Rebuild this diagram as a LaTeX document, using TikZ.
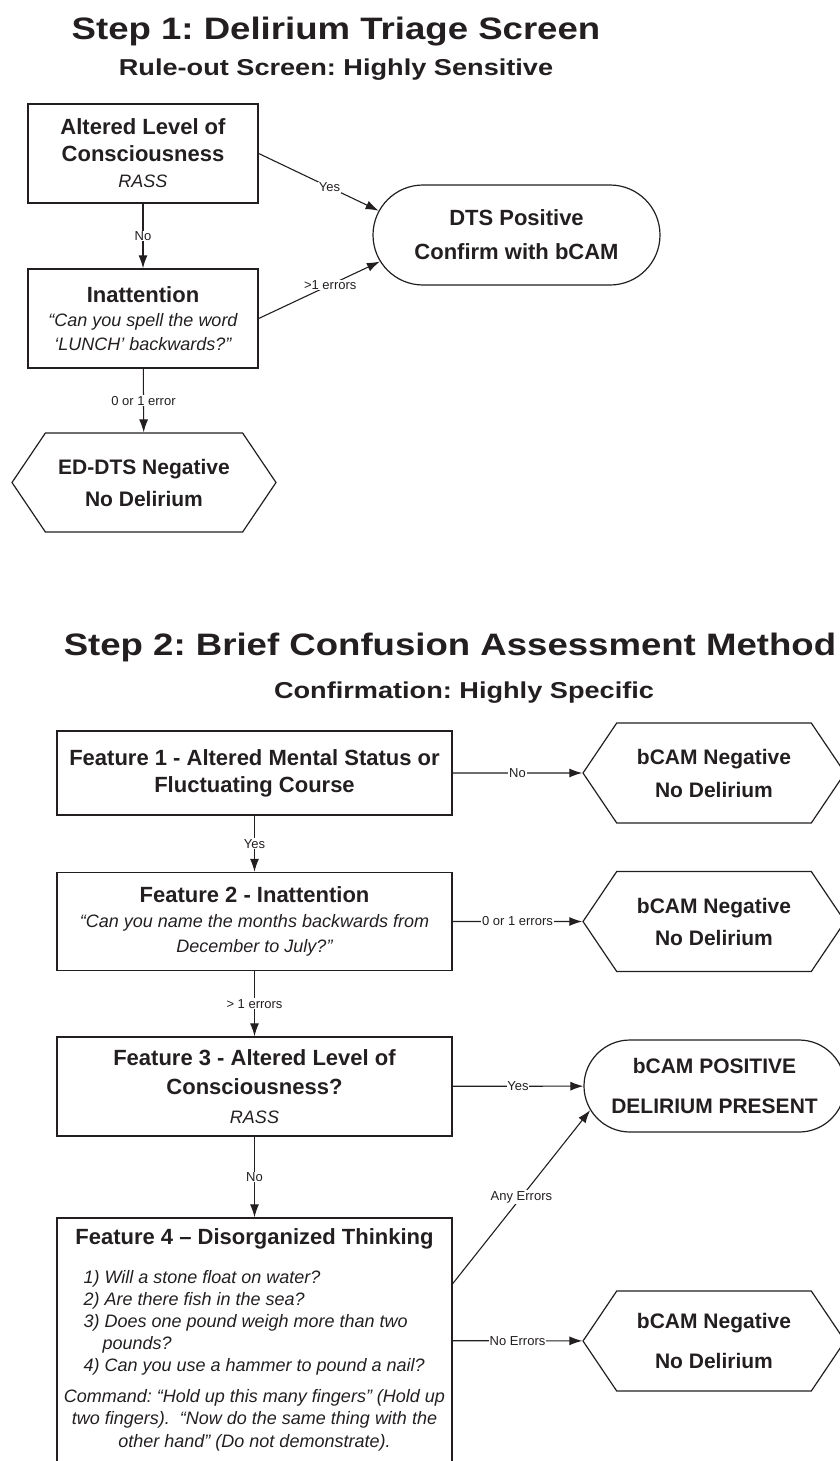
\documentclass[tikz,border=0pt]{standalone}
\usepackage{fontspec}
\setmainfont{Liberation Sans}
\newfontfamily\headfam{Liberation Sans}[FakeStretch=1.18]
\usetikzlibrary{positioning,arrows.meta,shapes.misc,shapes.symbols}

\definecolor{ink}{HTML}{231F20}
\frenchspacing

\newcommand{\titlefont}{\headfam\fontsize{31}{36}\selectfont\bfseries}
\newcommand{\subfont}{\headfam\fontsize{23}{28}\selectfont\bfseries}
\newcommand{\qfont}[1]{\mdseries\itshape\fontsize{18}{#1}\selectfont}

\tikzset{
  fbox/.style={draw=ink, line width=1.4pt, rectangle, inner sep=0pt, align=center,
    text=ink, font=\fontsize{22}{27}\selectfont\bfseries},
  hexbox/.style={draw=ink, line width=1.2pt, signal, signal to=east and west,
    signal pointer angle=112, inner sep=0pt, minimum width=262pt, minimum height=100pt,
    align=center, text=ink, font=\fontsize{21}{33}\selectfont\bfseries},
  endbox/.style={draw=ink, line width=1.2pt, rounded rectangle, inner sep=0pt,
    align=center, text=ink, font=\fontsize{21}{40}\selectfont\bfseries},
  arr/.style={draw=ink, line width=1.1pt, -{Latex[length=13pt,width=9pt]}},
  lbl/.style={fill=white, inner sep=0.8pt, text=ink, font=\fontsize{13}{14}\selectfont}
}

\begin{document}
\begin{tikzpicture}[x=1pt, y=-1pt]
\useasboundingbox (0,0) rectangle (840,1461);

% Step 1
\node[anchor=base, text=ink, font=\titlefont] (t1) at (336,40) {Step 1: Delirium Triage Screen};
\node[anchor=base, text=ink, font=\subfont] (s1) at (336,76) {Rule-out Screen: Highly Sensitive};

\node[fbox, minimum width=230pt, minimum height=99pt, font=\fontsize{22}{26.5}\selectfont\bfseries] (alc) at (143,153.5)
  {Altered Level of\\Consciousness\\\qfont{26}RASS};
\node[fbox, minimum width=230pt, minimum height=99pt, font=\fontsize{22}{24}\selectfont\bfseries] (inatt) at (143,318.5)
  {Inattention\\\qfont{23}“Can you spell the word\\\qfont{21.5}‘LUNCH’ backwards?”};
\node[hexbox, minimum width=264pt, minimum height=99pt, font=\fontsize{21}{32}\selectfont\bfseries] (edneg) at (144,482.5)
  {ED-DTS Negative\\No Delirium};
\node[endbox, minimum width=287pt, minimum height=100pt, font=\fontsize{22}{34}\selectfont\bfseries] (dts) at (516.5,235)
  {DTS Positive\\Confirm with bCAM};

% Step 1 arrows
\draw[arr] (alc) -- node[lbl] {No} (inatt);
\draw[arr] (inatt) -- node[lbl] {0 or 1 error} (edneg);
\draw[arr] (alc.east) -- node[lbl, pos=0.59] {Yes} (dts.170);
\draw[arr] (inatt.east) -- node[lbl, pos=0.59] {>1 errors} (dts.191);

% Step 2
\node[anchor=base, text=ink, font=\titlefont] (t2) at (450,655) {Step 2: Brief Confusion Assessment Method};
\node[anchor=base, text=ink, font=\subfont] (s2) at (464,698) {Confirmation: Highly Specific};

\node[fbox, minimum width=395pt, minimum height=84pt] (f1) at (254.5,773)
  {Feature 1 - Altered Mental Status or\\Fluctuating Course};
\node[fbox, minimum width=395pt, minimum height=98pt, font=\fontsize{22}{25}\selectfont\bfseries] (f2) at (254.5,921.5)
  {Feature 2 - Inattention\\\qfont{24}“Can you name the months backwards from\\\qfont{23}December to July?”};
\node[fbox, minimum width=395pt, minimum height=99pt, font=\fontsize{22}{29}\selectfont\bfseries] (f3) at (254.5,1086.5)
  {Feature 3 - Altered Level of\\Consciousness?\\\qfont{26}RASS};
\node[fbox, minimum width=395pt, minimum height=245pt] (f4) at (254.5,1340.5) {};
\node[text=ink, font=\fontsize{22}{27}\selectfont\bfseries] (f4head) at (254.5,1239)
  {Feature 4 – Disorganized Thinking};
\node[anchor=north west, align=left, text=ink, font={\qfont{22}}] (f4list) at (80,1267)
  {1) Will a stone float on water?\\2) Are there fish in the sea?\\3) Does one pound weigh more than two\\\hspace*{19pt}pounds?\\4) Can you use a hammer to pound a nail?};
\node[align=center, text=ink, font={\qfont{22.5}}] (f4cmd) at (254.5,1420)
  {Command: “Hold up this many fingers” (Hold up\\two fingers).\ \ “Now do the same thing with the\\other hand” (Do not demonstrate).};

\node[hexbox] (neg1) at (714,773) {bCAM Negative\\No Delirium};
\node[hexbox, font=\fontsize{21}{32}\selectfont\bfseries] (neg2) at (714,921.5) {bCAM Negative\\No Delirium};
\node[endbox, minimum width=261pt, minimum height=92pt] (pos) at (714.5,1086) {bCAM POSITIVE\\DELIRIUM PRESENT};
\node[hexbox, font=\fontsize{21}{40}\selectfont\bfseries] (neg3) at (714,1341) {bCAM Negative\\No Delirium};

% Step 2 arrows
\draw[arr] (f1) -- node[lbl] {No} (neg1);
\draw[arr] (f1) -- node[lbl] {Yes} (f2);
\draw[arr] (f2) -- node[lbl] {0 or 1 errors} (neg2);
\draw[arr] (f2) -- node[lbl] {> 1 errors} (f3);
\draw[arr] (f3) -- node[lbl] {Yes} (pos);
\draw[arr] (f3) -- node[lbl] {No} (f4);
\draw[arr] (f4.16) -- node[lbl] {Any Errors} (pos.191);
\draw[arr] (f4) -- node[lbl] {No Errors} (neg3);
\end{tikzpicture}
\end{document}
